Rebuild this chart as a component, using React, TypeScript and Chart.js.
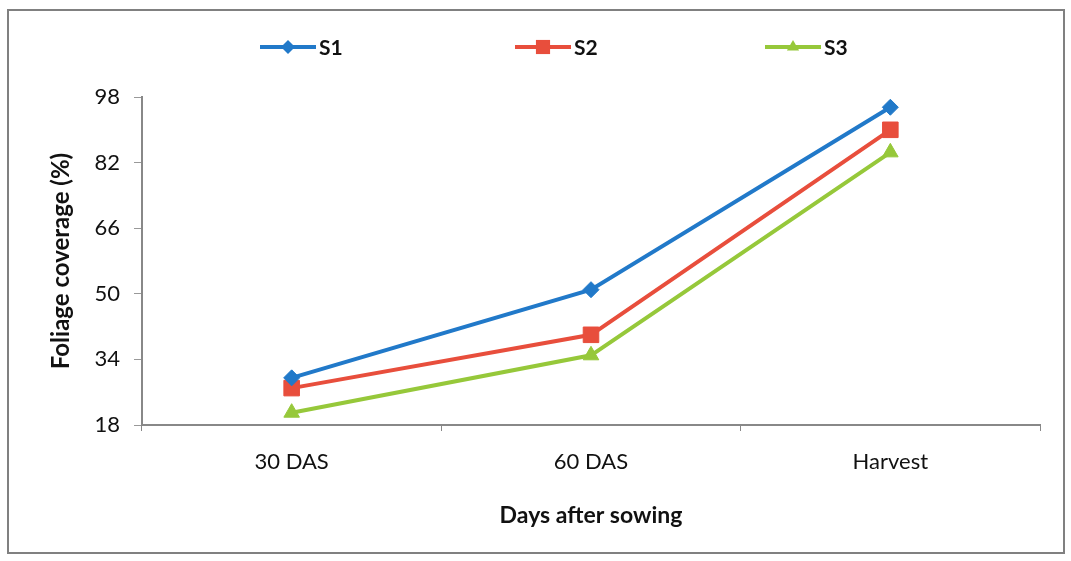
import React, { useEffect, useRef } from "react";
import { Chart, registerables } from "chart.js";

Chart.register(...registerables);

const categories = ["30 DAS", "60 DAS", "Harvest"];
const seriesNames = ["S1", "S2", "S3"];
const s1Values = [29.5, 51, 95.5];
const s2Values = [27, 40, 90];
const s3Values = [21, 35, 84.5];
const yTicks = [18, 34, 50, 66, 82, 98];

const colors = ["#2179c9", "#e84e3c", "#96c83a"];
const markers = ["rectRot", "rect", "triangle"];
const markerRadius = [8, 11, 9];

const FONT = "Lato, 'Open Sans', sans-serif";

function drawMarker(ctx: CanvasRenderingContext2D, style: string, r: number, x: number, y: number) {
  ctx.beginPath();
  if (style === "rectRot") {
    ctx.moveTo(x, y - r);
    ctx.lineTo(x + r, y);
    ctx.lineTo(x, y + r);
    ctx.lineTo(x - r, y);
  } else if (style === "rect") {
    const s = r * Math.SQRT1_2;
    ctx.rect(x - s, y - s, 2 * s, 2 * s);
  } else {
    ctx.moveTo(x, y - r);
    ctx.lineTo(x + r * 0.87, y + r * 0.5);
    ctx.lineTo(x - r * 0.87, y + r * 0.5);
  }
  ctx.closePath();
  ctx.fill();
}

const frameAndLegend = {
  id: "frameAndLegend",
  afterDraw(chart: any) {
    const ctx = chart.ctx;
    ctx.save();
    ctx.strokeStyle = "#808080";
    ctx.lineWidth = 2;
    ctx.strokeRect(8, 10, 1056, 543);
    const startX = [260, 515, 765];
    const y = 47;
    chart.data.datasets.forEach((ds: any, i: number) => {
      const x0 = startX[i];
      const lineLen = 56;
      ctx.strokeStyle = ds.borderColor;
      ctx.lineWidth = 4;
      ctx.beginPath();
      ctx.moveTo(x0, y);
      ctx.lineTo(x0 + lineLen, y);
      ctx.stroke();
      ctx.fillStyle = ds.backgroundColor;
      const r = i === 1 ? 10 : 7;
      drawMarker(ctx, ds.pointStyle, r, x0 + lineLen / 2, y);
      ctx.fillStyle = "#111";
      ctx.font = `bold 21px ${FONT}`;
      ctx.textAlign = "left";
      ctx.textBaseline = "middle";
      ctx.fillText(ds.label, x0 + lineLen + 3, y + 1);
    });
    ctx.restore();
  },
};

export default function App() {
  const ref = useRef<HTMLCanvasElement>(null);

  useEffect(() => {
    document.body.style.margin = "0";
    const values = [s1Values, s2Values, s3Values];
    const chart = new Chart(ref.current!, {
      type: "line",
      data: {
        labels: categories,
        datasets: seriesNames.map((name, i) => ({
          label: name,
          data: values[i],
          borderColor: colors[i],
          backgroundColor: colors[i],
          borderWidth: 4,
          pointStyle: markers[i] as any,
          pointRadius: markerRadius[i],
          pointBorderWidth: 1,
          pointHoverRadius: markerRadius[i],
          tension: 0,
        })),
      },
      options: {
        responsive: false,
        animation: false,
        events: [],
        layout: { padding: { left: 40, right: 31, top: 97, bottom: 0 } },
        plugins: {
          legend: { display: false },
          tooltip: { enabled: false },
        },
        scales: {
          x: {
            type: "category",
            offset: true,
            grid: {
              offset: true,
              drawOnChartArea: false,
              drawTicks: true,
              tickLength: 6,
              color: "#888",
            },
            border: { color: "#888", width: 2 },
            ticks: {
              color: "#111",
              padding: 18,
              font: { family: FONT, size: 22 },
            },
            title: {
              display: true,
              text: "Days after sowing",
              color: "#111",
              font: { family: FONT, size: 23, weight: "bold" },
              padding: { top: 0, bottom: 32 },
            },
            afterFit: (scale: any) => {
              scale.height = 136;
            },
          },
          y: {
            min: 18,
            max: 98,
            afterBuildTicks: (scale: any) => {
              scale.ticks = yTicks.map((v) => ({ value: v }));
            },
            grid: {
              drawOnChartArea: false,
              drawTicks: true,
              tickLength: 8,
              color: "#999",
            },
            border: { color: "#888", width: 2 },
            ticks: {
              color: "#111",
              padding: 14,
              font: { family: FONT, size: 22 },
            },
            title: {
              display: true,
              text: "Foliage coverage (%)",
              color: "#111",
              font: { family: FONT, size: 24, weight: "bold" },
              padding: { top: 7, bottom: 0 },
            },
            afterFit: (scale: any) => {
              scale.width = 102;
            },
          },
        },
      },
      plugins: [frameAndLegend],
    });
    return () => chart.destroy();
  }, []);

  return <canvas ref={ref} width={1071} height={561} style={{ display: "block" }} />;
}
